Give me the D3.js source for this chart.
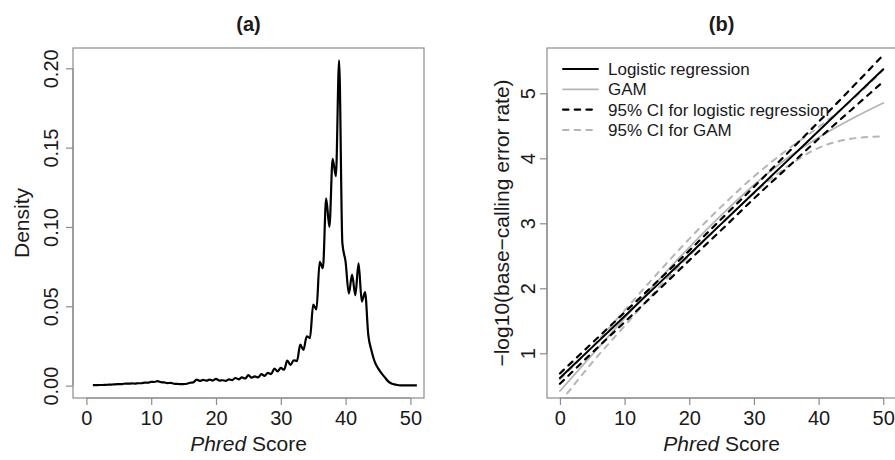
<!DOCTYPE html>
<html>
<head>
<meta charset="utf-8">
<script src="https://cdn.jsdelivr.net/npm/d3@7"></script>
<style>
  body { margin: 0; background: #fff; }
  svg text { font-family: "Liberation Sans", Arial, sans-serif; fill: #1a1a1a; }
</style>
</head>
<body>
<div id="chart"></div>
<script>
// ---- panel (a): density of Phred scores ----
var densityScore = [1, 1.5, 2, 2.5, 3, 3.5, 4, 4.5, 5, 5.5, 6, 6.5, 7, 7.5, 8, 8.5, 9, 9.5, 10, 10.5,
  11, 11.5, 12, 12.5, 13, 13.5, 14, 14.5, 15, 15.5, 16, 16.5, 17, 17.5, 18, 18.5, 19, 19.5, 20, 20.5,
  21, 21.5, 22, 22.5, 23, 23.5, 24, 24.5, 25, 25.5, 26, 26.5, 27, 27.5, 28, 28.5, 29, 29.5, 30, 30.5,
  31, 31.5, 32, 32.5, 33, 33.5, 34, 34.5, 35, 35.5, 36, 36.5, 37, 37.5, 38, 38.5, 39, 39.5, 40, 40.5,
  41, 41.5, 42, 42.5, 43, 43.5, 44, 44.5, 45, 45.5, 46, 46.5, 47, 47.5, 48, 48.5, 49, 49.5, 50, 50.5, 51];
var densityValue = [0.0003, 0.0003, 0.0004, 0.0004, 0.0005, 0.0006, 0.0007, 0.0008, 0.0010, 0.0010,
  0.0013, 0.0012, 0.0014, 0.0013, 0.0015, 0.0015, 0.0019, 0.0018, 0.0024, 0.0023,
  0.0028, 0.0022, 0.0020, 0.0016, 0.0017, 0.0012, 0.0011, 0.0009, 0.0010, 0.0012,
  0.0018, 0.0020, 0.0038, 0.0030, 0.0036, 0.0031, 0.0038, 0.0032, 0.0043, 0.0032,
  0.0034, 0.0030, 0.0040, 0.0035, 0.0048, 0.0040, 0.0052, 0.0045, 0.0066, 0.0050,
  0.0058, 0.0052, 0.0072, 0.0062, 0.0080, 0.0072, 0.0108, 0.0090, 0.0112, 0.0100,
  0.0158, 0.0130, 0.0160, 0.0155, 0.0258, 0.0225, 0.0310, 0.0300, 0.0510, 0.0480,
  0.0780, 0.0740, 0.1180, 0.1000, 0.1430, 0.1320, 0.2050, 0.0900, 0.0780, 0.0580,
  0.0700, 0.0570, 0.0770, 0.0530, 0.0590, 0.0320, 0.0220, 0.0150, 0.0110, 0.0080,
  0.0055, 0.0030, 0.0015, 0.0008, 0.0004, 0.0002, 0.0001, 0.0001, 0.0001, 0.0001, 0.0001];
var densityTicksX = [0, 10, 20, 30, 40, 50];
var densityTicksY = [0, 0.05, 0.10, 0.15, 0.20];

// ---- panel (b): fitted -log10 error rate ----
var fitScore = [0, 5, 10, 15, 20, 25, 30, 35, 40, 45, 50];
var logitFit = [0.62, 1.095, 1.57, 2.045, 2.52, 2.995, 3.47, 3.945, 4.42, 4.895, 5.37];
var logitUpper = [0.69, 1.16, 1.63, 2.10, 2.58, 3.07, 3.56, 4.06, 4.56, 5.07, 5.59];
var logitLower = [0.53, 1.01, 1.48, 1.95, 2.43, 2.90, 3.38, 3.84, 4.30, 4.74, 5.18];
var gamFit = [0.42, 0.98, 1.54, 2.10, 2.63, 3.13, 3.59, 3.99, 4.32, 4.60, 4.85];
var gamUpper = [0.60, 1.10, 1.66, 2.22, 2.76, 3.26, 3.72, 4.12, 4.48, 4.88, 5.36];
var gamLower = [0.24, 0.86, 1.42, 1.98, 2.50, 3.00, 3.46, 3.86, 4.16, 4.30, 4.34];
var fitTicksX = [0, 10, 20, 30, 40, 50];
var fitTicksY = [1, 2, 3, 4, 5];

var legendLabels = ["Logistic regression", "GAM", "95% CI for logistic regression", "95% CI for GAM"];

var W = 895, H = 460;
var frameColor = "#8c8c8c";
var grayLine = "#b5b5b5";

var svg = d3.select("#chart").append("svg")
  .attr("width", W)
  .attr("height", H);

// draws the R-like box, axes and titles for one panel, returns scales
function panel(opt) {
  var x = d3.scaleLinear().domain(opt.xDomain).range([opt.left, opt.right]);
  var y = d3.scaleLinear().domain(opt.yDomain).range([opt.bottom, opt.top]);

  var g = svg.append("g");

  g.append("rect")
    .attr("x", opt.left)
    .attr("y", opt.top)
    .attr("width", opt.right - opt.left)
    .attr("height", opt.bottom - opt.top)
    .attr("fill", "none")
    .attr("stroke", frameColor)
    .attr("stroke-width", 1.2);

  // x axis
  var xa = g.append("g")
    .attr("transform", "translate(0," + opt.bottom + ")")
    .call(d3.axisBottom(x).tickValues(opt.xTicks).tickSize(7).tickPadding(6).tickFormat(d3.format("d")));
  xa.select(".domain").attr("stroke", frameColor).attr("stroke-width", 1.2)
    .attr("d", "M" + x(opt.xTicks[0]) + ",0H" + x(opt.xTicks[opt.xTicks.length - 1]));
  xa.selectAll(".tick line").attr("stroke", frameColor).attr("stroke-width", 1.2);
  xa.selectAll(".tick text").attr("font-size", 20).attr("fill", "#1a1a1a");

  // y axis, labels parallel to axis
  var ya = g.append("g")
    .attr("transform", "translate(" + opt.left + ",0)")
    .call(d3.axisLeft(y).tickValues(opt.yTicks).tickSize(7).tickFormat(opt.yFormat));
  ya.select(".domain").attr("stroke", frameColor).attr("stroke-width", 1.2)
    .attr("d", "M0," + y(opt.yTicks[0]) + "V" + y(opt.yTicks[opt.yTicks.length - 1]));
  ya.selectAll(".tick line").attr("stroke", frameColor).attr("stroke-width", 1.2);
  ya.selectAll(".tick text")
    .attr("font-size", 20)
    .attr("fill", "#1a1a1a")
    .attr("x", null).attr("dy", null)
    .attr("text-anchor", "middle")
    .attr("transform", "translate(" + (-opt.yLabelGap) + ",0) rotate(-90)");

  var cx = (opt.left + opt.right) / 2;

  svg.append("text")
    .attr("x", cx)
    .attr("y", 31)
    .attr("text-anchor", "middle")
    .attr("font-size", 20)
    .attr("font-weight", "bold")
    .text(opt.title);

  var xt = svg.append("text")
    .attr("x", cx)
    .attr("y", 451)
    .attr("text-anchor", "middle")
    .attr("font-size", 21);
  xt.append("tspan").attr("font-style", "italic").text("Phred");
  xt.append("tspan").text(" Score");

  svg.append("text")
    .attr("transform", "translate(" + opt.yTitleX + "," + ((opt.top + opt.bottom) / 2) + ") rotate(-90)")
    .attr("text-anchor", "middle")
    .attr("font-size", 21)
    .text(opt.yTitle);

  return { x: x, y: y };
}

// ---- panel (a) ----
var a = panel({
  left: 73, right: 424, top: 48, bottom: 398,
  xDomain: [-2.07, 52.1], yDomain: [-0.0078, 0.2128],
  xTicks: densityTicksX, yTicks: densityTicksY,
  yFormat: d3.format(".2f"),
  yLabelGap: 15, yTitleX: 29,
  title: "(a)", yTitle: "Density"
});

var densityLine = d3.line()
  .x(function(d, i) { return a.x(densityScore[i]); })
  .y(function(d) { return a.y(d); })
  .curve(d3.curveMonotoneX);

svg.append("path")
  .datum(densityValue)
  .attr("d", densityLine)
  .attr("fill", "none")
  .attr("stroke", "#000")
  .attr("stroke-width", 2.2)
  .attr("stroke-linejoin", "round");

// ---- panel (b) ----
var b = panel({
  left: 547, right: 547 + 54 * 6.466, top: 48, bottom: 398,
  xDomain: [-2, 52], yDomain: [0.312, 5.697],
  xTicks: fitTicksX, yTicks: fitTicksY,
  yFormat: d3.format("d"),
  yLabelGap: 12, yTitleX: 509,
  title: "(b)", yTitle: "\u2212log10(base\u2212calling error rate)"
});

svg.append("clipPath")
  .attr("id", "clipB")
  .append("rect")
  .attr("x", 547).attr("y", 48)
  .attr("width", 54 * 6.466).attr("height", 350);

var fitLine = d3.line()
  .x(function(d, i) { return b.x(fitScore[i]); })
  .y(function(d) { return b.y(d); })
  .curve(d3.curveMonotoneX);

var series = [
  { values: gamLower, color: grayLine, width: 2, dash: "5.5,6.2" },
  { values: gamUpper, color: grayLine, width: 2, dash: "5.5,6.2" },
  { values: gamFit, color: grayLine, width: 1.8, dash: null },
  { values: logitLower, color: "#000", width: 2.2, dash: "5.5,6.2" },
  { values: logitUpper, color: "#000", width: 2.2, dash: "5.5,6.2" },
  { values: logitFit, color: "#000", width: 2, dash: null }
];

var gb = svg.append("g").attr("clip-path", "url(#clipB)");

gb.selectAll(".fit")
  .data(series)
  .enter()
  .append("path")
  .attr("class", "fit")
  .attr("d", function(d) { return fitLine(d.values); })
  .attr("fill", "none")
  .attr("stroke", function(d) { return d.color; })
  .attr("stroke-width", function(d) { return d.width; })
  .attr("stroke-linecap", "round")
  .attr("stroke-dasharray", function(d) { return d.dash; });

// legend
var legendStyle = [
  { color: "#000", width: 2, dash: null },
  { color: grayLine, width: 1.8, dash: null },
  { color: "#000", width: 2.2, dash: "5.5,6.2" },
  { color: grayLine, width: 2, dash: "5.5,6.2" }
];

var lg = svg.append("g").attr("transform", "translate(562,69)");

lg.selectAll("line")
  .data(legendLabels)
  .enter()
  .append("line")
  .attr("x1", 1).attr("x2", 36)
  .attr("y1", function(d, i) { return i * 20.3; })
  .attr("y2", function(d, i) { return i * 20.3; })
  .attr("stroke", function(d, i) { return legendStyle[i].color; })
  .attr("stroke-width", function(d, i) { return legendStyle[i].width; })
  .attr("stroke-linecap", "round")
  .attr("stroke-dasharray", function(d, i) { return legendStyle[i].dash; });

lg.selectAll("text")
  .data(legendLabels)
  .enter()
  .append("text")
  .attr("x", 46)
  .attr("y", function(d, i) { return i * 20.3; })
  .attr("dy", "0.35em")
  .attr("font-size", 17)
  .text(function(d) { return d; });
</script>
</body>
</html>
